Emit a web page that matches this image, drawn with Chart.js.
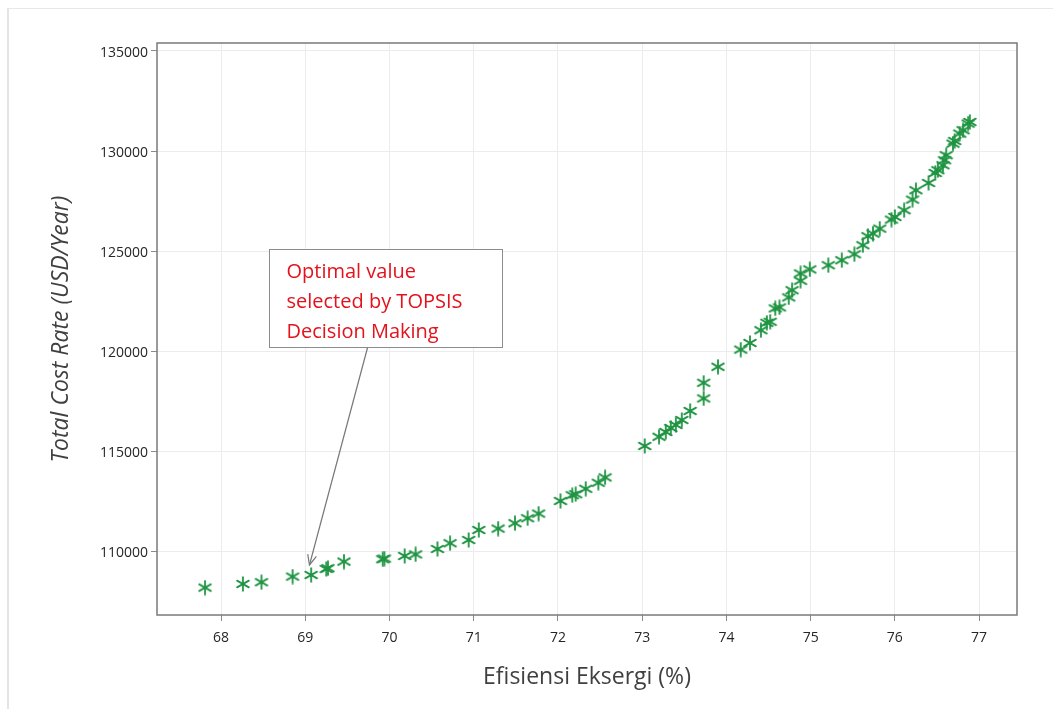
<!DOCTYPE html>
<html>
<head>
<meta charset="utf-8">
<script src="https://cdn.jsdelivr.net/npm/chart.js@4/dist/chart.umd.min.js"></script>
<style>
  html, body { margin: 0; padding: 0; background: #fff; }
  #wrap { position: relative; width: 1053px; height: 709px; }
  #frame { position: absolute; left: 7px; top: 8px; right: 0; bottom: 0;
           border-left: 2px solid #e4e4e4; border-top: 1px solid #e8e8e8; }
  #chart { position: absolute; left: 0; top: 0; }
</style>
</head>
<body>
<div id="wrap">
  <div id="frame"></div>
  <canvas id="chart" width="1053" height="709"></canvas>
</div>
<script>
// Pareto front: exergy efficiency (%) vs total cost rate (USD/year)
const effX = [
  67.81, 68.26, 68.48, 68.85, 69.07, 69.25, 69.27, 69.46, 69.92, 69.94,
  70.18, 70.31, 70.57, 70.72, 70.94, 71.06, 71.29, 71.49, 71.64, 71.77,
  72.03, 72.17, 72.21, 72.33, 72.48, 72.56, 73.03, 73.20, 73.28, 73.34,
  73.40, 73.47, 73.57, 73.73, 73.73, 73.90, 74.17, 74.28, 74.41, 74.48,
  74.52, 74.58, 74.63, 74.74, 74.78, 74.88, 74.88, 74.99, 75.21, 75.37,
  75.52, 75.62, 75.68, 75.74, 75.82, 75.96, 76.00, 76.11, 76.21, 76.25,
  76.40, 76.48, 76.51, 76.57, 76.59, 76.61, 76.69, 76.71, 76.77, 76.81,
  76.87, 76.89
];
const costY = [
  108170, 108350, 108440, 108720, 108800, 109100, 109140, 109470, 109590, 109620,
  109750, 109830, 110100, 110390, 110550, 111050, 111120, 111390, 111640, 111870,
  112500, 112790, 112840, 113110, 113410, 113680, 115250, 115710, 115950, 116150,
  116300, 116550, 117000, 117630, 118410, 119210, 120070, 120400, 121040, 121410,
  121460, 122130, 122180, 122680, 123040, 123510, 123880, 124080, 124290, 124540,
  124840, 125290, 125740, 125870, 126120, 126570, 126700, 127040, 127570, 128040,
  128400, 128900, 129040, 129290, 129540, 129790, 130370, 130500, 130870, 131040,
  131370, 131450
];

const xTicks = [68, 69, 70, 71, 72, 73, 74, 75, 76, 77];
const yTicks = [110000, 115000, 120000, 125000, 130000, 135000];

const xTitle = "Efisiensi Eksergi (%)";
const yTitle = "Total Cost Rate (USD/Year)";

// annotation: text lines, box corners and arrow ends in data units
const noteLines = ["Optimal value", "selected by TOPSIS", "Decision Making"];
const noteBox = { x1: 68.57, y1: 125080, x2: 71.34, y2: 120210 };
const noteArrow = { fromX: 69.74, toX: 69.05, toY: 109300 };

const FONT = "'Open Sans', 'Noto Sans', sans-serif";
const GREEN = "#1f9442";

// 6-spoke asterisk marker
function makeAsterisk() {
  const c = document.createElement("canvas");
  c.width = 16; c.height = 16;
  const g = c.getContext("2d");
  g.strokeStyle = GREEN;
  g.lineWidth = 1.8;
  g.lineCap = "round";
  const r = 6.8;
  for (let k = 0; k < 3; k++) {
    const a = Math.PI / 2 + k * Math.PI / 3;
    g.beginPath();
    g.moveTo(8 - r * Math.cos(a), 8 - r * Math.sin(a));
    g.lineTo(8 + r * Math.cos(a), 8 + r * Math.sin(a));
    g.stroke();
  }
  return c;
}

// frame + annotation drawn over the chart
const notePlugin = {
  id: "note",
  afterDraw(chart) {
    const { ctx, chartArea: a, scales } = chart;
    const x = scales.x, y = scales.y;
    ctx.save();

    ctx.strokeStyle = "#7a7a7a";
    ctx.lineWidth = 1.5;
    ctx.strokeRect(a.left, a.top, a.right - a.left, a.bottom - a.top);

    const bx1 = Math.round(x.getPixelForValue(noteBox.x1)) + 0.5;
    const by1 = Math.round(y.getPixelForValue(noteBox.y1)) + 0.5;
    const bx2 = Math.round(x.getPixelForValue(noteBox.x2)) + 0.5;
    const by2 = Math.round(y.getPixelForValue(noteBox.y2)) + 0.5;
    ctx.fillStyle = "#fff";
    ctx.fillRect(bx1, by1, bx2 - bx1, by2 - by1);
    ctx.strokeStyle = "#8c8c8c";
    ctx.lineWidth = 1;
    ctx.strokeRect(bx1, by1, bx2 - bx1, by2 - by1);

    ctx.fillStyle = "#e3121c";
    ctx.font = "20px " + FONT;
    ctx.textBaseline = "alphabetic";
    noteLines.forEach((t, i) => {
      ctx.fillText(t, bx1 + 17, by1 + 28 + i * 30);
    });

    // arrow
    const ax = x.getPixelForValue(noteArrow.fromX);
    const tx = x.getPixelForValue(noteArrow.toX);
    const ty = y.getPixelForValue(noteArrow.toY);
    ctx.strokeStyle = "#777";
    ctx.lineWidth = 1.2;
    ctx.beginPath();
    ctx.moveTo(ax, by2);
    ctx.lineTo(tx, ty);
    ctx.stroke();
    const ang = Math.atan2(ty - by2, tx - ax);
    const hl = 11, hw = 0.42;
    ctx.beginPath();
    ctx.moveTo(tx - hl * Math.cos(ang - hw), ty - hl * Math.sin(ang - hw));
    ctx.lineTo(tx, ty);
    ctx.lineTo(tx - hl * Math.cos(ang + hw), ty - hl * Math.sin(ang + hw));
    ctx.stroke();

    ctx.restore();
  }
};

const points = effX.map((v, i) => ({ x: v, y: costY[i] }));

new Chart(document.getElementById("chart").getContext("2d"), {
  type: "scatter",
  data: {
    datasets: [{
      data: points,
      pointStyle: makeAsterisk(),
      pointRadius: 7,
      borderColor: GREEN,
      backgroundColor: GREEN
    }]
  },
  options: {
    responsive: false,
    animation: false,
    events: [],
    layout: { padding: { left: 44, top: 43, right: 36, bottom: 14 } },
    plugins: { legend: { display: false }, tooltip: { enabled: false } },
    scales: {
      x: {
        type: "linear",
        min: 67.24,
        max: 77.45,
        afterBuildTicks: (s) => { s.ticks = xTicks.map((v) => ({ value: v })); },
        afterFit: (s) => { s.height = 80; },
        grid: { color: "#ececec", lineWidth: 1, tickLength: 6, tickColor: "#8a8a8a" },
        border: { display: false },
        ticks: {
          color: "#262626",
          padding: 9,
          font: { family: FONT, size: 14 },
          callback: (v) => String(v)
        },
        title: {
          display: true,
          text: xTitle,
          color: "#404040",
          font: { family: FONT, size: 23 },
          padding: { top: 4, bottom: 4 }
        }
      },
      y: {
        type: "linear",
        min: 106800,
        max: 135400,
        afterBuildTicks: (s) => { s.ticks = yTicks.map((v) => ({ value: v })); },
        afterFit: (s) => { s.width = 113; },
        grid: { color: "#ececec", lineWidth: 1, tickLength: 6, tickColor: "#8a8a8a" },
        border: { display: false },
        ticks: {
          color: "#262626",
          padding: 3,
          labelOffset: 2,
          font: { family: FONT, size: 14 },
          callback: (v) => String(v)
        },
        title: {
          display: true,
          text: yTitle,
          color: "#404040",
          font: { family: FONT, size: 23, style: "italic" },
          padding: { top: 4, bottom: 4 }
        }
      }
    }
  },
  plugins: [notePlugin]
});
</script>
</body>
</html>
